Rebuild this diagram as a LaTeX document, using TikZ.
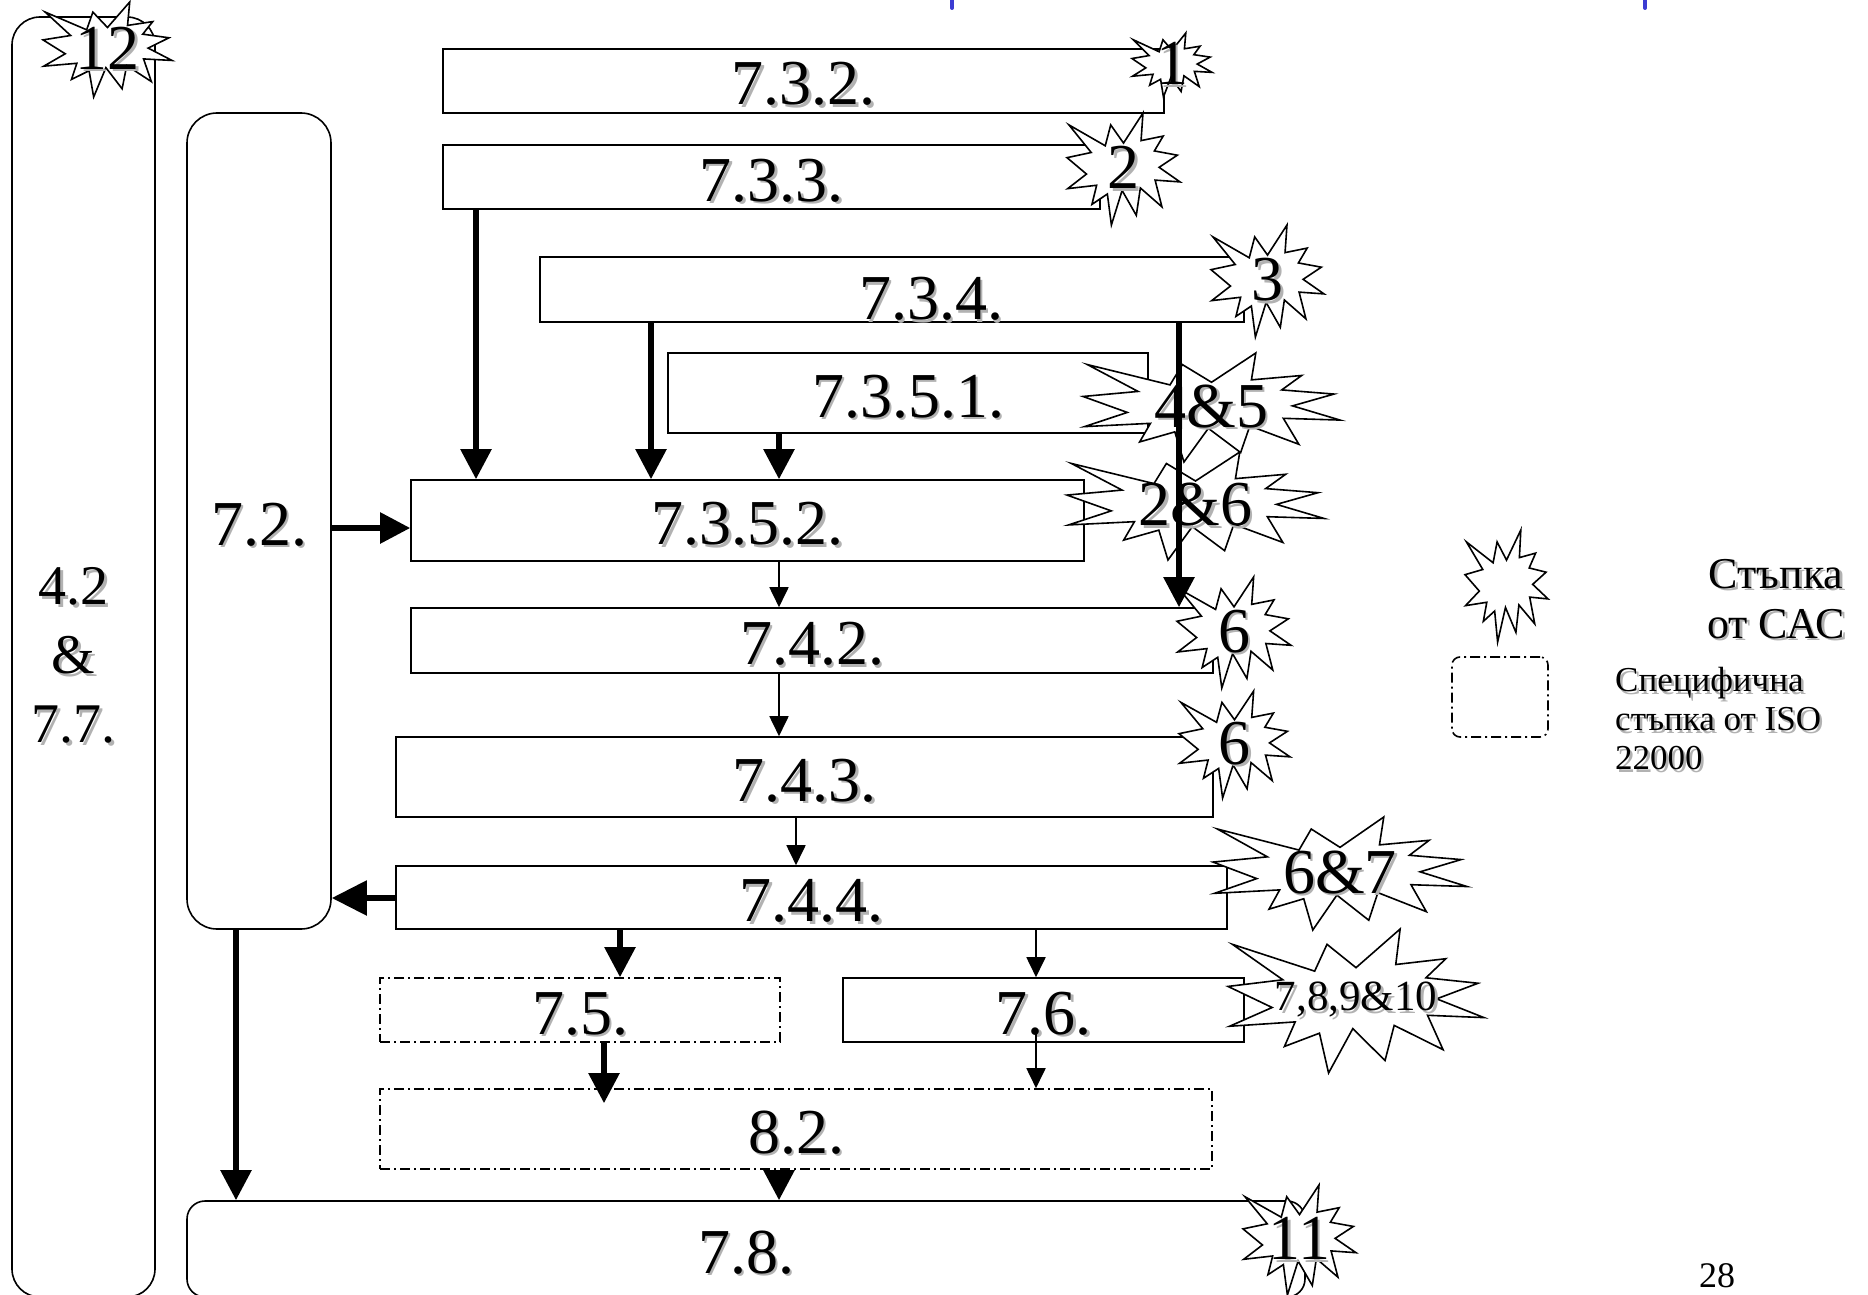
\documentclass[tikz,border=0pt]{standalone}
\usepackage{fontspec}
\setmainfont{Liberation Serif}
\usetikzlibrary{arrows.meta,calc}
\definecolor{markblue}{RGB}{60,60,210}
\newcommand\sh[1]{\makebox[0pt][l]{\hspace{2.5pt}\raisebox{-2.5pt}{\textcolor{black!30}{#1}}}#1}
\newcommand\mainfont{\fontsize{64}{70}\selectfont}
% irregular seal (explosion) outline, unit box centred at origin, y downward
\newcommand\sealdraw[4]{%
  \filldraw[starline, shift={(#1,#2)}, xscale=#3, yscale=#4]
    (0,-0.2315) -- (0.1723,-0.5) -- (0.1553,-0.2535) -- (0.3509,-0.2937) --
    (0.2732,-0.1613) -- (0.4767,-0.1233) -- (0.3151,-0.0150) -- (0.5,0.1153) --
    (0.2795,0.0992) -- (0.3400,0.3377) -- (0.1491,0.1693) -- (0.1133,0.4137) --
    (-0.0124,0.1914) -- (-0.1072,0.5) -- (-0.1428,0.2235) -- (-0.2795,0.3156) --
    (-0.2376,0.1452) -- (-0.4938,0.1753) -- (-0.3277,0.0451) -- (-0.5,-0.1012) --
    (-0.2858,-0.1474) -- (-0.4829,-0.3937) -- (-0.1615,-0.2074) -- (-0.1133,-0.3937) -- cycle;}
\newcommand\seal[6]{\sealdraw{#2}{#3}{#4}{#5}\node[starlabel] (#1) at (#2,#3) {#6};}
\begin{document}
\begin{tikzpicture}[x=1pt,y=-1pt,
  box/.style={draw=black, line width=1.6pt, fill=white, rectangle, inner sep=0pt, font=\mainfont, text height=48pt, text depth=0pt},
  rbox/.style={box, rounded corners=#1},
  ddbox/.style={box, dash pattern=on 10pt off 4pt on 2pt off 4pt},
  starline/.style={draw=black, fill=white, line width=1.6pt, line join=miter},
  starlabel/.style={inner sep=0pt, font=\mainfont},
  thickarrow/.style={line width=5.5pt, -{Triangle[length=30pt,width=30pt]}},
  thinarrow/.style={line width=1.8pt, -{Triangle[length=20pt,width=19pt]}}]
\useasboundingbox (0,0) rectangle (1868,1295);
% blue marks at the top edge
\draw[markblue, line width=4pt, line cap=round] (952,-4) -- (952,8);
\draw[markblue, line width=4pt, line cap=round] (1645,-4) -- (1645,8);
% column / row helpers
\coordinate (cA) at (476,0);
\coordinate (cB) at (651,0);
\coordinate (cC) at (779,0);
\coordinate (cD) at (1179,0);
\coordinate (cE) at (796,0);
\coordinate (cF) at (620,0);
\coordinate (cG) at (1036,0);
\coordinate (cH) at (604,0);
\coordinate (cJ) at (236,0);
\coordinate (rA) at (0,528);
\coordinate (rB) at (0,898);
% boxes
\node[rbox=28pt, minimum width=143pt, minimum height=1280pt,
  label={[font=\fontsize{56}{69}\selectfont, align=center, xshift=-10pt]center:\sh{4.2}\\\sh{\&}\\\sh{7.7.}}] (b4277) at (83.5,657) {};
\node[rbox=30pt, minimum width=144pt, minimum height=816pt] (b72) at (259,521) {\sh{7.2.}};
\node[box, minimum width=721pt, minimum height=64pt] (b732) at (803.5,81) {\sh{7.3.2.}};
\node[box, minimum width=657pt, minimum height=64pt] (b733) at (771.5,177) {\sh{7.3.3.}};
\node[box, minimum width=704pt, minimum height=65pt,
  label={[font=\mainfont, xshift=39pt, yshift=-11pt]center:\sh{7.3.4.}}] (b734) at (892,289.5) {};
\node[box, minimum width=480pt, minimum height=80pt] (b7351) at (908,393) {\sh{7.3.5.1.}};
\node[box, minimum width=673pt, minimum height=81pt] (b7352) at (747.5,520.5) {\sh{7.3.5.2.}};
\node[box, minimum width=802pt, minimum height=65pt] (b742) at (812,640.5) {\sh{7.4.2.}};
\node[box, minimum width=817pt, minimum height=80pt] (b743) at (804.5,777) {\sh{7.4.3.}};
\node[box, minimum width=831pt, minimum height=63pt] (b744) at (811.5,897.5) {\sh{7.4.4.}};
\node[ddbox, minimum width=400pt, minimum height=64pt] (b75) at (580,1010) {\sh{7.5.}};
\node[box, minimum width=401pt, minimum height=64pt] (b76) at (1043.5,1010) {\sh{7.6.}};
\node[ddbox, minimum width=832pt, minimum height=80pt] (b82) at (796,1129) {\sh{8.2.}};
\node[rbox=18pt, minimum width=1118pt, minimum height=96pt] (b78) at (746,1249) {\sh{7.8.}};
% stars
\seal{s12}{107.5}{49.5}{129}{95}{\sh{12}}
\seal{s1}{1172}{65}{80}{64}{\sh{1}}
\seal{s2}{1123.5}{169}{113}{112}{\sh{2}}
\seal{s3}{1267.5}{281}{113}{112}{\sh{3}}
\seal{s26}{1195.5}{506}{257}{108}{\sh{2\&6}}
\seal{s45}{1211.5}{407.5}{257}{109}{\sh{4\&5}}
\seal{s6a}{1234}{632.5}{114}{111}{\sh{6}}
\seal{s6b}{1234.5}{744.5}{111}{107}{\sh{6}}
\seal{s67}{1340}{873.5}{254}{113}{\sh{6\&7}}
\seal{s7810}{1356}{1001}{256}{144}{\fontsize{43}{48}\selectfont\sh{7,8,9\&10}}
\seal{s11}{1299.5}{1240}{113}{110}{\sh{11}}
% connectors
\draw[thickarrow] (b733.south -| cA) -- (b7352.north -| cA);
\draw[thickarrow] (b734.south -| cB) -- (b7352.north -| cB);
\draw[thickarrow] (b7351.south -| cC) -- (b7352.north -| cC);
\draw[thickarrow] (b734.south -| cD) -- (b742.north -| cD);
\draw[thickarrow] (b72.east |- rA) -- (b7352.west |- rA);
\draw[thinarrow] (b7352.south -| cC) -- (b742.north -| cC);
\draw[thinarrow] (b742.south -| cC) -- (b743.north -| cC);
\draw[thinarrow] (b743.south -| cE) -- (b744.north -| cE);
\draw[line width=5.5pt, -{Triangle[length=35pt,width=34pt]}] (b744.west |- rB) -- (b72.east |- rB);
\draw[thickarrow] (b744.south -| cF) -- (b75.north -| cF);
\draw[thinarrow] (b744.south -| cG) -- (b76.north -| cG);
\draw[thickarrow, shorten >=-15pt] (b75.south -| cH) -- (b82.north -| cH);
\draw[thinarrow, shorten <=-12pt] (b76.south -| cG) -- (b82.north -| cG);
\draw[thickarrow] (b82.south -| cC) -- (b78.north -| cC);
\draw[thickarrow] (b72.south -| cJ) -- (b78.north -| cJ);
% legend
\sealdraw{1506.5}{586}{83}{112}
\node[font=\fontsize{44}{50}\selectfont, align=center, inner sep=0pt] (leg1) at (1776,600) {\sh{Стъпка}\\\sh{от САС}};
\node[rbox=8pt, dash pattern=on 10pt off 4pt on 2pt off 4pt, minimum width=96pt, minimum height=80pt] (legbox) at (1500,697) {};
\node[font=\fontsize{35}{39}\selectfont, align=left, anchor=west, inner sep=0pt] (leg2) at (1615,720) {\sh{Специфична}\\\sh{стъпка от ISO}\\\sh{22000}};
\node[font=\fontsize{36}{40}\selectfont, inner sep=0pt] (page) at (1717,1276) {28};
\end{tikzpicture}
\end{document}
